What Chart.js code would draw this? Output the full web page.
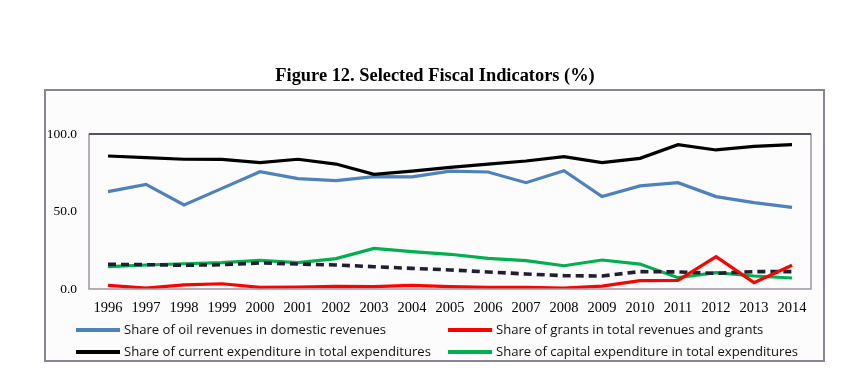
<!DOCTYPE html>
<html>
<head>
<meta charset="utf-8">
<script src="https://cdn.jsdelivr.net/npm/chart.js@4/dist/chart.umd.min.js"></script>
<style>
  html, body { margin: 0; padding: 0; background: #ffffff; }
  #wrap { position: relative; width: 851px; height: 378px; overflow: hidden; }
  #c { position: absolute; left: 0; top: 0; }
  #title { position: absolute; left: 0; width: 870px; top: 65px; text-align: center;
           font: bold 18.4px "Liberation Serif", "Times New Roman", serif; color: #000; }
  .lg { position: absolute; font: 13.1px "Open Sans", "Liberation Sans", Arial, sans-serif; color: #111; white-space: nowrap; line-height: 16px; }
  .lg span.sw { display: inline-block; width: 44px; height: 4px; vertical-align: middle; margin-right: 4px; position: relative; top: -1px; }
</style>
</head>
<body>
<div id="wrap">
  <canvas id="c" width="851" height="378"></canvas>
  <div id="title">Figure 12. Selected Fiscal Indicators (%)</div>
  <div id="legend"></div>
</div>
<script>
const years = ["1996","1997","1998","1999","2000","2001","2002","2003","2004","2005","2006","2007","2008","2009","2010","2011","2012","2013","2014"];
const oilShare     = [62.8,67.5,54.2,64.9,75.7,71.2,69.9,72.5,72.3,76.0,75.5,68.6,76.3,59.6,66.5,68.6,59.6,55.7,52.7];
const grantsShare  = [2.4,0.6,2.6,3.4,1.1,1.3,1.7,1.5,2.4,1.5,1.1,1.1,0.6,1.9,5.4,5.6,20.8,4.1,15.3];
const currentShare = [85.8,84.7,83.7,83.6,81.5,83.7,80.6,74.0,76.0,78.5,80.6,82.6,85.4,81.5,84.3,93.1,89.7,92.0,93.1];
const capitalShare = [14.4,15.5,16.3,17.0,18.5,17.0,19.6,26.2,24.1,22.4,19.8,18.3,15.0,18.7,16.1,7.3,10.5,8.4,7.1];
const trendLine    = [15.9,15.7,15.3,15.7,16.8,16.1,15.5,14.4,13.3,12.3,11.0,9.7,8.6,8.4,11.2,11.0,10.1,11.2,11.2];
const yTicks = [0, 50, 100];
const seriesNames = [
  "Share of oil revenues in domestic revenues",
  "Share of grants in total revenues and grants",
  "Share of current expenditure in total expenditures",
  "Share of capital expenditure in total expenditures"
];
const colors = ["#4f81bd", "#ff0000", "#000000", "#00b050"];

const framePlugin = {
  id: 'frame',
  beforeDraw(chart) {
    const ctx = chart.ctx;
    ctx.save();
    ctx.fillStyle = '#ffffff';
    ctx.fillRect(0, 0, chart.width, chart.height);
    ctx.strokeStyle = '#8a8490';
    ctx.lineWidth = 2;
    ctx.strokeRect(45, 90, 779, 271);
    ctx.fillStyle = '#fcfcfc';
    ctx.fillRect(46, 91, 777, 269);
    ctx.restore();
  },
  afterDatasetsDraw(chart) {
    const a = chart.chartArea, ctx = chart.ctx;
    ctx.save();
    ctx.lineWidth = 1.5;
    ctx.strokeStyle = '#9a94a0';
    ctx.beginPath();
    ctx.moveTo(a.left, a.top); ctx.lineTo(a.left, a.bottom); ctx.lineTo(a.right, a.bottom); ctx.lineTo(a.right, a.top);
    ctx.stroke();
    ctx.strokeStyle = '#231a2e';
    ctx.beginPath();
    ctx.moveTo(a.left, a.top); ctx.lineTo(a.right, a.top);
    ctx.stroke();
    ctx.restore();
  }
};

const ds = (label, data, color, order, extra) => Object.assign({
  label, data, borderColor: color, backgroundColor: color, borderWidth: 3.2,
  pointRadius: 0, pointHoverRadius: 0, tension: 0, fill: false, order
}, extra || {});

new Chart(document.getElementById('c'), {
  type: 'line',
  data: {
    labels: years,
    datasets: [
      ds(seriesNames[0], oilShare, colors[0], 5),
      ds(seriesNames[1], grantsShare, colors[1], 1),
      ds(seriesNames[2], currentShare, colors[2], 4),
      ds(seriesNames[3], capitalShare, colors[3], 3),
      ds("", trendLine, "#231f33", 2, { borderDash: [8, 5], borderWidth: 3.6 })
    ]
  },
  options: {
    responsive: false,
    animation: false,
    layout: { padding: { left: 44, top: 134, right: 40, bottom: 59 } },
    plugins: { legend: { display: false }, title: { display: false }, tooltip: { enabled: false } },
    scales: {
      x: {
        type: 'category',
        offset: true,
        grid: { display: false, drawTicks: false },
        border: { display: false },
        ticks: { color: '#000', font: { family: '"Liberation Serif", "Times New Roman", serif', size: 14.5 }, padding: 10, maxRotation: 0, autoSkip: false },
        afterFit(s) { s.height = 30; }
      },
      y: {
        min: 0, max: 100,
        grid: { display: false, drawTicks: false },
        border: { display: false },
        afterBuildTicks(s) { s.ticks = yTicks.map(v => ({ value: v })); },
        ticks: { color: '#000', font: { family: '"Liberation Serif", "Times New Roman", serif', size: 13.5 }, padding: 12,
                 callback: v => Number(v).toFixed(1) },
        afterFit(s) { s.width = 45; }
      }
    }
  },
  plugins: [framePlugin]
});

const legendPos = [[76, 321], [448, 321], [76, 343], [448, 343]];
const lg = document.getElementById('legend');
seriesNames.forEach((name, i) => {
  const d = document.createElement('div');
  d.className = 'lg';
  d.style.left = legendPos[i][0] + 'px';
  d.style.top = legendPos[i][1] + 'px';
  d.innerHTML = '<span class="sw" style="background:' + colors[i] + '"></span>' + name;
  lg.appendChild(d);
});
</script>
</body>
</html>
